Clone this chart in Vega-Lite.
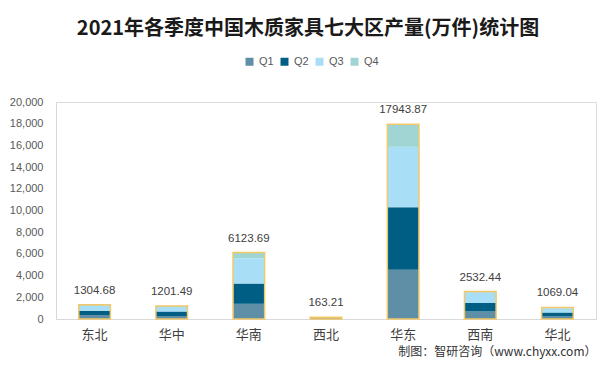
{
  "$schema": "https://vega.github.io/schema/vega-lite/v6.json",
  "width": 540,
  "height": 217,
  "autosize": {"type": "none"},
  "padding": {"left": 56, "top": 102, "right": 20, "bottom": 51},
  "background": "white",
  "title": {
    "text": "2021年各季度中国木质家具七大区产量(万件)统计图",
    "font": "Noto Sans CJK SC",
    "fontSize": 20,
    "fontWeight": "bold",
    "color": "#1a1a1a",
    "anchor": "middle",
    "dx": -18,
    "offset": 17
  },
  "datasets": {
    "q": [
      {"region": "东北", "q": "Q1", "v": 360},
      {"region": "东北", "q": "Q2", "v": 400},
      {"region": "东北", "q": "Q3", "v": 450},
      {"region": "东北", "q": "Q4", "v": 94.68},
      {"region": "华中", "q": "Q1", "v": 280},
      {"region": "华中", "q": "Q2", "v": 400},
      {"region": "华中", "q": "Q3", "v": 450},
      {"region": "华中", "q": "Q4", "v": 71.49},
      {"region": "华南", "q": "Q1", "v": 1400},
      {"region": "华南", "q": "Q2", "v": 1870},
      {"region": "华南", "q": "Q3", "v": 2330},
      {"region": "华南", "q": "Q4", "v": 523.69},
      {"region": "西北", "q": "Q1", "v": 40},
      {"region": "西北", "q": "Q2", "v": 45},
      {"region": "西北", "q": "Q3", "v": 60},
      {"region": "西北", "q": "Q4", "v": 18.21},
      {"region": "华东", "q": "Q1", "v": 4540},
      {"region": "华东", "q": "Q2", "v": 5770},
      {"region": "华东", "q": "Q3", "v": 5560},
      {"region": "华东", "q": "Q4", "v": 2073.87},
      {"region": "西南", "q": "Q1", "v": 680},
      {"region": "西南", "q": "Q2", "v": 790},
      {"region": "西南", "q": "Q3", "v": 960},
      {"region": "西南", "q": "Q4", "v": 102.44},
      {"region": "华北", "q": "Q1", "v": 230},
      {"region": "华北", "q": "Q2", "v": 370},
      {"region": "华北", "q": "Q3", "v": 400},
      {"region": "华北", "q": "Q4", "v": 69.04}
    ],
    "t": [
      {"region": "东北", "total": 1304.68},
      {"region": "华中", "total": 1201.49},
      {"region": "华南", "total": 6123.69},
      {"region": "西北", "total": 163.21},
      {"region": "华东", "total": 17943.87},
      {"region": "西南", "total": 2532.44},
      {"region": "华北", "total": 1069.04}
    ]
  },
  "encoding": {
    "x": {
      "field": "region",
      "type": "nominal",
      "sort": ["东北", "华中", "华南", "西北", "华东", "西南", "华北"],
      "scale": {"paddingInner": 0.59, "paddingOuter": 0.295},
      "axis": {
        "title": "制图：智研咨询（www.chyxx.com）",
        "titleAnchor": "end",
        "titleAlign": "right",
        "titleFont": "Noto Sans CJK SC",
        "titleFontSize": 12,
        "titleFontWeight": "normal",
        "titleColor": "#333333",
        "titlePadding": 5,
        "labelAngle": 0,
        "labelFont": "Noto Sans CJK SC",
        "labelFontSize": 13,
        "labelColor": "#404040",
        "labelPadding": 9,
        "labelOverlap": false,
        "ticks": false,
        "domainColor": "#d9d9d9",
        "domainWidth": 1
      }
    }
  },
  "layer": [
    {
      "data": {"name": "q"},
      "mark": {"type": "bar"},
      "encoding": {
        "y": {
          "field": "v",
          "type": "quantitative",
          "stack": "zero",
          "scale": {"domain": [0, 20000]},
          "axis": {
            "title": null,
            "values": [0, 2000, 4000, 6000, 8000, 10000, 12000, 14000, 16000, 18000, 20000],
            "format": ",.0f",
            "labelOverlap": false,
            "grid": false,
            "ticks": false,
            "labelFont": "Liberation Sans",
            "labelFontSize": 11,
            "labelColor": "#595959",
            "labelPadding": 13,
            "domainColor": "#d9d9d9"
          }
        },
        "color": {
          "field": "q",
          "type": "nominal",
          "scale": {
            "domain": ["Q1", "Q2", "Q3", "Q4"],
            "range": ["#5e8fa6", "#005e85", "#a8dff7", "#a0d5d3"]
          },
          "legend": {
            "title": null,
            "orient": "none",
            "direction": "horizontal",
            "legendX": 188,
            "legendY": -46,
            "symbolType": "square",
            "symbolSize": 64,
            "symbolStrokeWidth": 0,
            "labelFont": "Liberation Sans",
            "labelFontSize": 11,
            "labelColor": "#595959",
            "labelOffset": 4,
            "columnPadding": 5
          }
        },
        "order": {"field": "q"}
      }
    },
    {
      "data": {"name": "t"},
      "mark": {"type": "bar", "fill": "transparent", "stroke": "#f2c868", "strokeWidth": 1.5},
      "encoding": {
        "y": {
          "field": "total",
          "type": "quantitative",
          "axis": {
            "title": null,
            "values": [0, 2000, 4000, 6000, 8000, 10000, 12000, 14000, 16000, 18000, 20000],
            "format": ",.0f",
            "labelOverlap": false,
            "grid": false,
            "ticks": false,
            "labelFont": "Liberation Sans",
            "labelFontSize": 11,
            "labelColor": "#595959",
            "labelPadding": 13,
            "domainColor": "#d9d9d9"
          }
        }
      }
    },
    {
      "data": {"name": "t"},
      "mark": {"type": "text", "dy": -9, "baseline": "bottom", "font": "Liberation Sans", "fontSize": 11.5, "color": "#404040"},
      "encoding": {
        "y": {
          "field": "total",
          "type": "quantitative",
          "axis": {
            "title": null,
            "values": [0, 2000, 4000, 6000, 8000, 10000, 12000, 14000, 16000, 18000, 20000],
            "format": ",.0f",
            "labelOverlap": false,
            "grid": false,
            "ticks": false,
            "labelFont": "Liberation Sans",
            "labelFontSize": 11,
            "labelColor": "#595959",
            "labelPadding": 13,
            "domainColor": "#d9d9d9"
          }
        },
        "text": {"field": "total", "type": "quantitative", "format": ".2f"}
      }
    }
  ]
}
